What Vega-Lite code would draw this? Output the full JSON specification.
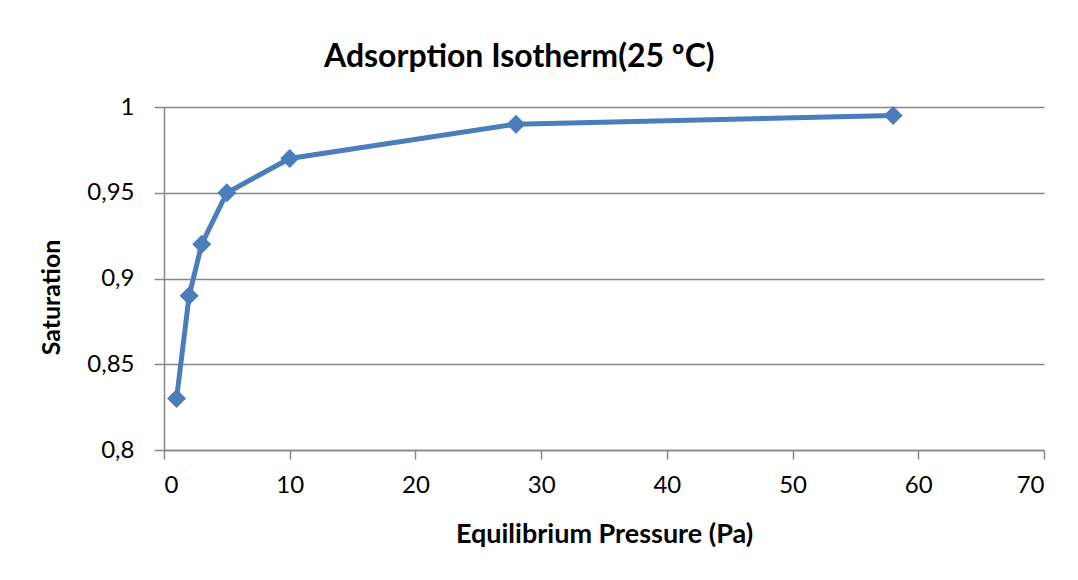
{
  "$schema": "https://vega.github.io/schema/vega-lite/v6.json",
  "autosize": {"type": "none"},
  "width": 880,
  "height": 343,
  "padding": {"left": 164, "top": 107, "right": 34, "bottom": 130},
  "background": "white",
  "config": {
    "font": "Lato",
    "view": {"stroke": null},
    "axis": {"labelFont": "Lato", "titleFont": "Lato", "labelColor": "#000000", "titleColor": "#000000"}
  },
  "title": {
    "text": "Adsorption Isotherm(25 ºC)",
    "font": "Lato",
    "fontSize": 32,
    "fontWeight": "bold",
    "color": "#000000",
    "anchor": "start",
    "frame": "group",
    "baseline": "alphabetic",
    "dx": 160,
    "dy": 43,
    "offset": 39
  },
  "data": {
    "values": [
      {"pressure": 1, "saturation": 0.83},
      {"pressure": 2, "saturation": 0.89},
      {"pressure": 3, "saturation": 0.92},
      {"pressure": 5, "saturation": 0.95},
      {"pressure": 10, "saturation": 0.97},
      {"pressure": 28, "saturation": 0.99},
      {"pressure": 58, "saturation": 0.995}
    ]
  },
  "mark": {
    "type": "line",
    "color": "#4A7EBB",
    "strokeWidth": 5,
    "point": {"shape": "diamond", "size": 360, "filled": true, "color": "#4A7EBB", "opacity": 1}
  },
  "encoding": {
    "x": {
      "field": "pressure",
      "type": "quantitative",
      "scale": {"domain": [0, 70], "nice": false},
      "axis": {
        "title": "Equilibrium Pressure (Pa)",
        "titleFontSize": 27,
        "titleFontWeight": "bold",
        "titlePadding": 24,
        "values": [0, 10, 20, 30, 40, 50, 60, 70],
        "labelFontSize": 24,
        "labelPadding": 14,
        "tickSize": 9,
        "tickColor": "#888888",
        "domainColor": "#888888",
        "domainWidth": 1.5,
        "tickWidth": 1.5,
        "grid": false
      }
    },
    "y": {
      "field": "saturation",
      "type": "quantitative",
      "scale": {"domain": [0.8, 1], "nice": false, "zero": false},
      "axis": {
        "title": "Saturation",
        "titleFontSize": 25,
        "titleFontWeight": "bold",
        "titleX": -113,
        "titleY": 190,
        "titleBaseline": "middle",
        "values": [0.8, 0.85, 0.9, 0.95, 1],
        "format": "~g",
        "labelExpr": "replace(datum.label, '.', ',')",
        "labelFontSize": 24,
        "labelPadding": 20,
        "tickSize": 10,
        "tickColor": "#888888",
        "tickWidth": 1.5,
        "domainColor": "#888888",
        "domainWidth": 1.5,
        "grid": true,
        "gridColor": "#888888",
        "gridWidth": 1.5
      }
    }
  }
}
